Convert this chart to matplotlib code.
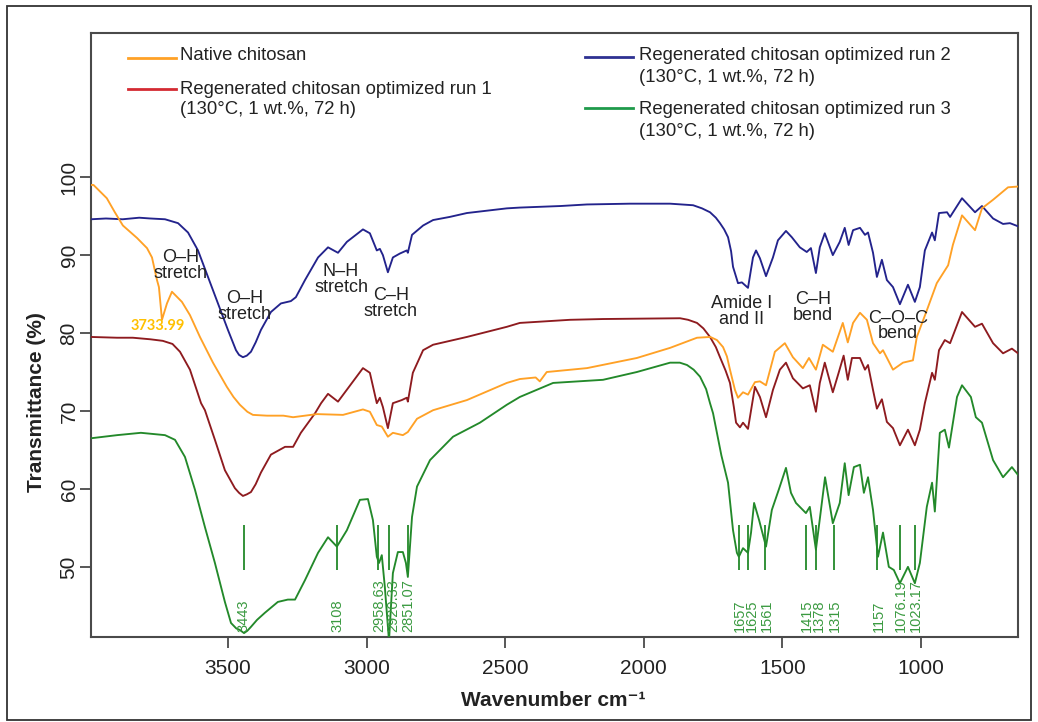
import matplotlib
matplotlib.use("Agg")
import matplotlib.pyplot as plt
from matplotlib.lines import Line2D
from matplotlib.patches import Rectangle

plt.rcParams['font.family'] = ['Liberation Sans', 'DejaVu Sans']

# ---------------- spectra (wavenumber cm-1, transmittance %) ----------------
wn_native = [3994, 3985, 3937, 3908, 3879, 3828, 3792, 3774, 3756, 3749, 3738, 3720, 3702,
             3666, 3637, 3601, 3554, 3504, 3480, 3457, 3430, 3410, 3359, 3300, 3265, 3179,
             3085, 3013, 2988, 2963, 2945, 2923, 2905, 2869, 2851, 2818, 2760, 2638, 2494,
             2447, 2390, 2375, 2350, 2205, 2025, 1905, 1808, 1760, 1736, 1714, 1700, 1689,
             1671, 1660, 1642, 1624, 1599, 1581, 1559, 1527, 1491, 1462, 1426, 1404, 1379,
             1354, 1318, 1282, 1264, 1245, 1220, 1195, 1173, 1148, 1137, 1101, 1065, 1029,
             1015, 979, 943, 902, 885, 852, 805, 780, 740, 686, 650]
t_native = [99.0, 99.0, 97.3, 95.5, 93.8, 92.2, 90.9, 89.7, 86.8, 85.9, 81.7, 83.8, 85.3,
            84.0, 82.3, 79.5, 76.2, 73.1, 71.8, 70.8, 69.9, 69.5, 69.4, 69.4, 69.2, 69.6,
            69.5, 70.2, 69.9, 68.2, 68.0, 66.7, 67.2, 66.9, 67.3, 69.0, 70.1, 71.4, 73.6,
            74.1, 74.3, 73.8, 75.0, 75.5, 76.8, 78.1, 79.4, 79.5, 79.1, 78.2, 77.0, 75.3,
            72.7, 71.7, 72.4, 72.1, 73.7, 73.8, 73.3, 77.6, 78.7, 76.9, 75.5, 76.8, 75.3,
            78.5, 77.6, 81.3, 78.8, 81.3, 82.6, 81.7, 78.7, 77.4, 77.8, 75.3, 76.2, 76.5,
            79.5, 82.9, 86.4, 88.7, 91.3, 95.1, 93.2, 96.0, 97.1, 98.7, 98.8]

wn_run1 = [3994, 3900, 3843, 3780, 3735, 3700, 3673, 3637, 3597, 3583, 3547, 3511, 3475,
           3460, 3446, 3432, 3417, 3400, 3381, 3345, 3294, 3265, 3237, 3186, 3164, 3139,
           3103, 3013, 2988, 2963, 2952, 2941, 2923, 2905, 2873, 2855, 2851, 2833, 2796,
           2760, 2638, 2494, 2447, 2266, 2147, 1869, 1840, 1808, 1785, 1761, 1740, 1725,
           1705, 1689, 1675, 1667, 1653, 1642, 1624, 1599, 1581, 1559, 1534, 1509, 1487,
           1462, 1426, 1401, 1379, 1365, 1347, 1318, 1297, 1279, 1264, 1249, 1220, 1202,
           1191, 1173, 1159, 1141, 1123, 1101, 1076, 1047, 1022, 1004, 986, 960, 950, 935,
           914, 895, 852, 805, 780, 740, 704, 672, 650]
t_run1 = [79.5, 79.4, 79.4, 79.2, 79.0, 78.6, 77.6, 75.3, 71.0, 70.1, 66.3, 62.4, 60.1,
          59.5, 59.1, 59.3, 59.6, 60.6, 62.1, 64.4, 65.4, 65.4, 67.2, 69.7, 71.0, 72.2,
          71.2, 75.5, 74.9, 71.0, 71.7, 70.5, 67.8, 71.0, 71.4, 71.7, 71.2, 74.9, 77.8,
          78.5, 79.5, 80.8, 81.3, 81.7, 81.8, 81.9, 81.7, 81.3, 80.6, 79.5, 78.2, 76.9,
          75.2, 73.6, 70.5, 68.5, 67.9, 68.5, 67.7, 73.1, 71.8, 69.2, 72.7, 75.3, 76.2,
          74.2, 72.9, 73.3, 69.9, 73.6, 76.2, 72.4, 74.9, 77.1, 74.0, 76.8, 76.8, 75.3,
          75.9, 72.7, 70.3, 71.5, 68.6, 67.8, 65.6, 67.6, 65.6, 67.6, 71.0, 74.9, 74.0, 77.8,
          79.1, 78.7, 82.7, 80.8, 81.2, 78.7, 77.4, 78.0, 77.4]

wn_run2 = [3994, 3940, 3880, 3820, 3780, 3727, 3680, 3644, 3608, 3572, 3536, 3500, 3471,
           3460, 3446, 3432, 3417, 3400, 3381, 3345, 3309, 3273, 3255, 3222, 3175, 3139,
           3103, 3071, 3013, 2988, 2963, 2952, 2941, 2923, 2905, 2880, 2855, 2851, 2836,
           2796, 2760, 2700, 2638, 2494, 2447, 2300, 2205, 2050, 1905, 1822, 1790, 1761,
           1740, 1725, 1710, 1696, 1685, 1678, 1660, 1646, 1624, 1606, 1595, 1581, 1559,
           1534, 1516, 1487, 1466, 1437, 1412, 1397, 1379, 1365, 1347, 1318, 1293, 1275,
           1261, 1245, 1220, 1202, 1191, 1173, 1159, 1141, 1123, 1101, 1076, 1047, 1022,
           1004, 986, 960, 950, 935, 906, 895, 852, 805, 780, 740, 704, 679, 650]
t_run2 = [94.6, 94.7, 94.6, 94.8, 94.7, 94.6, 94.1, 92.9, 90.6, 87.2, 83.8, 80.4, 77.8,
          77.2, 76.9, 77.1, 77.6, 78.8, 80.4, 82.7, 83.8, 84.1, 84.6, 86.8, 89.7, 91.0,
          90.3, 91.7, 93.3, 92.8, 90.6, 90.8, 90.0, 87.8, 89.7, 90.2, 90.6, 90.3, 92.6,
          93.8, 94.5, 94.9, 95.4, 96.0, 96.1, 96.3, 96.5, 96.6, 96.6, 96.4, 96.0, 95.5,
          94.8, 94.1, 93.3, 92.3, 90.5, 88.5, 86.4, 86.5, 85.8, 89.7, 90.6, 89.6, 87.3,
          89.7, 91.9, 93.1, 92.3, 91.0, 90.4, 90.9, 87.7, 91.0, 92.8, 90.0, 91.7, 93.5,
          91.3, 93.2, 93.5, 92.6, 92.9, 90.3, 87.2, 89.4, 86.8, 85.9, 83.7, 86.2, 84.0,
          85.9, 90.6, 92.9, 91.9, 95.4, 95.5, 94.9, 97.3, 95.5, 96.3, 94.7, 94.0, 94.1, 93.7]

wn_run3 = [3994, 3900, 3814, 3727, 3691, 3655, 3619, 3583, 3547, 3511, 3489, 3470, 3457,
           3442, 3430, 3417, 3395, 3367, 3320, 3284, 3258, 3222, 3175, 3139, 3107, 3071,
           3024, 2995, 2977, 2963, 2955, 2945, 2934, 2919, 2905, 2887, 2869, 2858, 2851,
           2836, 2818, 2771, 2688, 2591, 2494, 2447, 2327, 2147, 2025, 1905, 1870, 1844,
           1820, 1797, 1775, 1761, 1750, 1720, 1696, 1678, 1664, 1657, 1642, 1624, 1613,
           1602, 1584, 1559, 1538, 1513, 1487, 1469, 1451, 1415, 1401, 1379, 1364, 1346,
           1318, 1293, 1275, 1261, 1242, 1220, 1206, 1191, 1173, 1155, 1137, 1116, 1098,
           1076, 1047, 1022, 1004, 979, 960, 950, 932, 914, 899, 870, 852, 820, 802, 780,
           740, 704, 672, 650]
t_run3 = [66.5, 66.9, 67.2, 66.9, 66.3, 64.1, 59.9, 55.1, 50.5, 45.5, 42.8, 42.1, 41.9,
          41.5, 41.8, 42.3, 43.2, 44.1, 45.5, 45.8, 45.8, 48.3, 51.8, 53.8, 52.6, 54.7,
          58.6, 58.7, 56.0, 51.3, 50.5, 51.5, 47.4, 40.5, 49.2, 51.9, 51.9, 50.5, 48.7,
          56.4, 60.3, 63.7, 66.7, 68.5, 70.8, 71.8, 73.6, 74.0, 75.0, 76.2, 76.2, 75.9,
          75.3, 74.4, 72.8, 71.0, 69.7, 64.3, 60.8, 54.7, 51.8, 51.3, 52.4, 51.8, 54.4,
          58.2, 56.0, 52.6, 57.3, 59.9, 62.7, 59.5, 58.2, 56.9, 57.7, 52.2, 56.4, 61.5,
          55.6, 58.2, 63.3, 59.2, 62.8, 63.1, 59.5, 61.5, 57.3, 51.3, 54.4, 50.0, 49.6,
          47.9, 50.0, 47.9, 50.5, 57.7, 60.8, 57.1, 67.2, 67.6, 65.3, 71.8, 73.3, 71.8,
          69.2, 68.5, 63.7, 61.5, 62.8, 61.8]

# picked peaks of run 3
peak_wn = [3443, 3108, 2958.63, 2920.33, 2851.07, 1657, 1625, 1561,
           1415, 1378, 1315, 1157, 1076.19, 1023.17]
peak_labels = ["3443", "3108", "2958.63", "2920.33", "2851.07", "1657", "1625", "1561",
               "1415", "1378", "1315", "1157", "1076.19", "1023.17"]
# sideways shift (cm-1) so crowded labels do not collide
label_shift = [0, -4, -4, -15, -3, -3, -15, -6, -2, -9, -3, -6, -3, -4]

band_labels = ["O\u2013H\nstretch", "O\u2013H\nstretch", "N\u2013H\nstretch", "C\u2013H\nstretch",
               "Amide I\nand II", "C\u2013H\nbend", "C\u2013O\u2013C\nbend"]
band_pos = [(3670, 88.7), (3439, 83.4), (3092, 86.9), (2912, 83.8),
            (1646, 82.8), (1390, 83.3), (1083, 80.9)]

legend_labels = ["Native chitosan",
                 "Regenerated chitosan optimized run 1\n(130\u00b0C, 1 wt.%, 72 h)",
                 "Regenerated chitosan optimized run 2\n(130\u00b0C, 1 wt.%, 72 h)",
                 "Regenerated chitosan optimized run 3\n(130\u00b0C, 1 wt.%, 72 h)"]

c_native = "#FFA126"
c_run1 = "#8E1B1F"
c_run2 = "#23238C"
c_run3 = "#23892A"
legend_colors = ["#FFA126", "#D42A32", "#2E3192", "#1F9A4B"]
lab_green = "#3A9A40"

W, H = 1038, 722
fig = plt.figure(figsize=(W / 100, H / 100), dpi=100)
ax = fig.add_axes([91 / W, 1 - 637 / H, (1018 - 91) / W, (637 - 33) / H])

lw = 1.35
ax.plot(wn_run3, t_run3, color=c_run3, lw=lw, zorder=3)
ax.plot(wn_run1, t_run1, color=c_run1, lw=lw, zorder=3)
ax.plot(wn_run2, t_run2, color=c_run2, lw=lw, zorder=3)
ax.plot(wn_native, t_native, color=c_native, lw=lw, zorder=4)

# peak markers and labels
ax.vlines(peak_wn, 49.6, 55.4, color=c_run3, lw=1.3, zorder=2)
for w, lab, dx in zip(peak_wn, peak_labels, label_shift):
    ax.text(w + dx, 41.7, lab, rotation=90, ha="center", va="bottom",
            fontsize=10.5, color=lab_green, zorder=5)

ax.text(3754, 80.9, "3733.99", ha="center", va="center", fontsize=10.5,
        fontweight="bold", family="Lato", color="#FFC000", zorder=5)

for txt, (x, y) in zip(band_labels, band_pos):
    ax.text(x, y, txt, ha="center", va="center", fontsize=13, color="#222222",
            linespacing=0.9, zorder=6)

ax.set_xlim(3994, 650)
ax.set_ylim(41.0, 118.5)
ax.set_xticks([3500, 3000, 2500, 2000, 1500, 1000])
ax.set_yticks([50, 60, 70, 80, 90, 100])

for s in ax.spines.values():
    s.set_color("#4a4a4a")
    s.set_linewidth(1.5)
ax.tick_params(direction="out", length=8, width=1.3, color="#4a4a4a",
               labelsize=15, labelcolor="#222222")
ax.tick_params(axis="x", pad=8)
ax.tick_params(axis="y", pad=1)
for lab in ax.get_yticklabels():
    lab.set_rotation(90)
    lab.set_va("center")

ax.set_xlabel("Wavenumber cm\u207b\u00b9", fontsize=15, fontweight="bold", color="#222222")
ax.xaxis.set_label_coords((553 - 91) / (1018 - 91), (637 - 700) / (637 - 33))
ax.xaxis.label.set_va("center")
ax.set_ylabel("Transmittance (%)", fontsize=15, fontweight="bold", color="#222222")
ax.yaxis.set_label_coords((37 - 91) / (1018 - 91), (637 - 402) / (637 - 33))
ax.yaxis.label.set_va("center")

# legend drawn in two columns, positions in pixels
def px(x, y):
    return x / W, 1 - y / H

leg_layout = [((128, 176), 58, 180, [56]),
              ((128, 176), 89, 180, [89, 110]),
              ((585, 633), 57, 639, [56, 78]),
              ((585, 633), 108, 639, [110, 132])]
for lab, col, ((x0, x1), ly, tx, tys) in zip(legend_labels, legend_colors, leg_layout):
    (fx0, fy), (fx1, _) = px(x0, ly), px(x1, ly)
    fig.add_artist(Line2D([fx0, fx1], [fy, fy], color=col, lw=2.0))
    for line, ty in zip(lab.split("\n"), tys):
        fx, fyt = px(tx, ty)
        fig.text(fx, fyt, line, ha="left", va="center", fontsize=13.3, color="#222222")

# outer frame
fig.add_artist(Rectangle((7 / W, 1 - 720 / H), (1031 - 7) / W, (720 - 6) / H,
                         transform=fig.transFigure, fill=False, lw=1.3, edgecolor="#333333"))

fig.savefig("out.png", dpi=100)
